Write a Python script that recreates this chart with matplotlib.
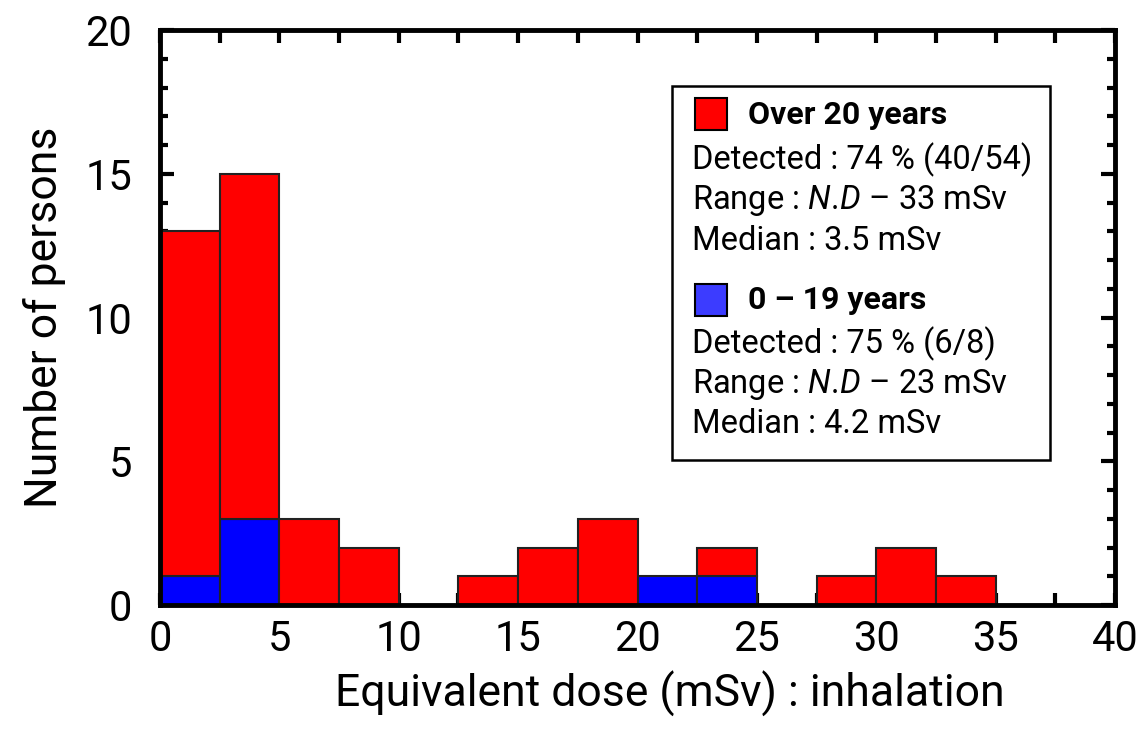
import numpy as np
import matplotlib
matplotlib.use('Agg')
import matplotlib.pyplot as plt
from matplotlib.patches import Rectangle
from matplotlib.ticker import MultipleLocator

plt.rcParams['font.family'] = ['Roboto', 'DejaVu Sans']
plt.rcParams['mathtext.fontset'] = 'custom'
plt.rcParams['mathtext.rm'] = 'Roboto'
plt.rcParams['mathtext.it'] = 'Roboto:italic'

# histogram data (bin width 2.5 mSv)
bin_edges = np.arange(0, 37.5, 2.5)
over20 = [12, 12, 3, 2, 0, 1, 2, 3, 0, 1, 0, 1, 2, 1]
under20 = [1, 3, 0, 0, 0, 0, 0, 0, 1, 1, 0, 0, 0, 0]

legend_over = ["Detected : 74 % (40/54)", r"Range : $\mathit{N.\!D}$ – 33 mSv", "Median : 3.5 mSv"]
legend_under = ["Detected : 75 % (6/8)", r"Range : $\mathit{N.\!D}$ – 23 mSv", "Median : 4.2 mSv"]

fig = plt.figure(figsize=(11.42, 7.34), dpi=100)
ax = fig.add_axes([160 / 1142, 129 / 734, 955 / 1142, 575 / 734])

left = bin_edges[:-1]
w = 2.5
over = np.array(over20)
under = np.array(under20)
# blue at the bottom, red stacked on top
m = under > 0
ax.bar(left[m], under[m], width=w, align='edge', color='#0000ff', edgecolor='#222222', linewidth=1.5, zorder=2)
m = over > 0
ax.bar(left[m], over[m], width=w, bottom=under[m], align='edge', color='#ff0000', edgecolor='#222222', linewidth=1.5, zorder=2)

ax.set_xlim(0, 40)
ax.set_ylim(0, 20)
ax.xaxis.set_major_locator(MultipleLocator(5))
ax.xaxis.set_minor_locator(MultipleLocator(2.5))
ax.yaxis.set_major_locator(MultipleLocator(5))
ax.yaxis.set_minor_locator(MultipleLocator(1))
ax.tick_params(which='both', direction='in', top=True, right=True, width=3, labelsize=30)
ax.tick_params(axis='x', which='both', length=9, pad=10)
ax.tick_params(axis='y', which='major', length=10, pad=20)
ax.tick_params(axis='y', which='minor', length=6)
for s in ax.spines.values():
    s.set_linewidth(3.5)
    s.set_zorder(5)

ax.set_xlabel("Equivalent dose (mSv) : inhalation", fontsize=32, labelpad=8, x=0.534)
ax.set_ylabel("Number of persons", fontsize=32, labelpad=14)

# legend box with stats
ax.add_patch(Rectangle((0.536, 0.252), 0.396, 0.651, transform=ax.transAxes,
                       facecolor='white', edgecolor='black', linewidth=1.8, zorder=6))
ax.add_patch(Rectangle((0.560, 0.826), 0.034, 0.056, transform=ax.transAxes,
                       facecolor='#ff0000', edgecolor='black', linewidth=1.5, zorder=7))
ax.text(0.616, 0.852, "Over 20 years", transform=ax.transAxes, fontsize=23,
        fontweight='bold', va='center', zorder=8)
for txt, yy in zip(legend_over, [0.774, 0.704, 0.633]):
    ax.text(0.557, yy, txt, transform=ax.transAxes, fontsize=23.5, va='center', zorder=8)

ax.add_patch(Rectangle((0.560, 0.502), 0.034, 0.056, transform=ax.transAxes,
                       facecolor='#3c3cff', edgecolor='black', linewidth=1.5, zorder=7))
ax.text(0.616, 0.530, "0 – 19 years", transform=ax.transAxes, fontsize=23,
        fontweight='bold', va='center', zorder=8)
for txt, yy in zip(legend_under, [0.454, 0.384, 0.315]):
    ax.text(0.557, yy, txt, transform=ax.transAxes, fontsize=23.5, va='center', zorder=8)

plt.savefig('out.png', dpi=100)
